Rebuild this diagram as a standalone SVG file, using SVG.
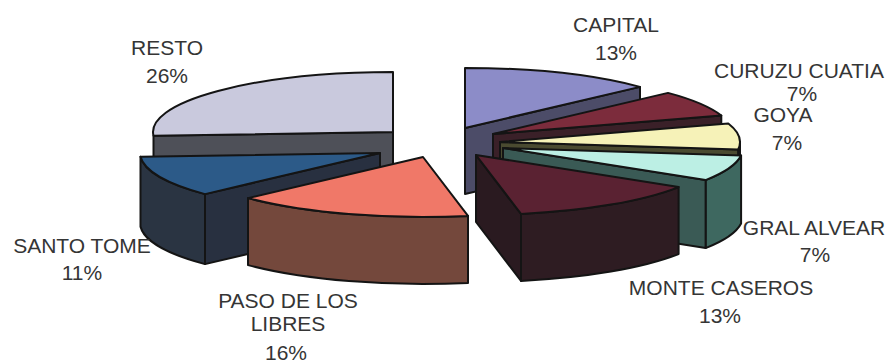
<svg xmlns="http://www.w3.org/2000/svg" width="894" height="363" viewBox="0 0 894 363">
<style>
.e{stroke:#141414;stroke-width:2;stroke-linejoin:round}
.t{font-family:"Liberation Sans",Arial,sans-serif;font-size:21px;fill:#353535;text-anchor:middle}
</style>
<rect width="894" height="363" fill="#ffffff"/>
<g id="capital">
<path class="e" fill="#4c4c68" d="M465,128 L640,86.9 L640,152.9 L465,194 Z"/>
<path class="e" fill="#8c8cc8" d="M465,128 L465,68 A240,60 0 0 1 640,86.9 Z"/>
</g>
<g id="resto">
<path class="e" fill="#4e5058" d="M393,132 L153.5,135.8 L153.5,201.8 L393,198 Z"/>
<path class="e" fill="#c9c9dd" d="M393,132 L153.5,135.8 A240,60 0 0 1 393,72 Z"/>
</g>
<g id="curuzu-cuatia">
<path class="e" fill="#3a2028" d="M493,134 L721.3,115.5 L721.3,181.5 L493,200 Z"/>
<path class="e" fill="#7c2c3c" d="M493,134 L668,92.9 A240,60 0 0 1 721.3,115.5 Z"/>
</g>
<g id="goya">
<path class="e" fill="#4a4a30" d="M740,142 A240,60 0 0 1 738.1,149.5 L738.1,216.5 A240,60 0 0 0 740,209 Z"/>
<path class="e" fill="#4a4a30" d="M500,142 L738.1,149.5 L738.1,216.5 L500,209 Z"/>
<path class="e" fill="#f6f2b8" d="M500,142 L728.3,123.5 A240,60 0 0 1 738.1,149.5 Z"/>
</g>
<g id="gral-alvear">
<path class="e" fill="#3e6860" d="M741.1,155.5 A240,60 0 0 1 705.6,180.1 L705.6,248.1 A240,60 0 0 0 741.1,223.5 Z"/>
<path class="e" fill="#3a5a55" d="M503,148 L705.6,180.1 L705.6,248.1 L503,216 Z"/>
<path class="e" fill="#bcefe4" d="M503,148 L741.1,155.5 A240,60 0 0 1 705.6,180.1 Z"/>
</g>
<g id="santo-tome">
<path class="e" fill="#283040" d="M380,153 L205,194.1 L205,264.1 L380,223 Z"/>
<path class="e" fill="#2a3442" d="M205,194.1 A240,60 0 0 1 140.5,156.8 L140.5,226.8 A240,60 0 0 0 205,264.1 Z"/>
<path class="e" fill="#2c5a88" d="M380,153 L205,194.1 A240,60 0 0 1 140.5,156.8 Z"/>
</g>
<g id="monte-caseros">
<path class="e" fill="#2a1a20" d="M476,155 L521,213.9 L521,280.9 L476,222 Z"/>
<path class="e" fill="#2e1c22" d="M678.6,187.1 A240,60 0 0 1 521,213.9 L521,280.9 A240,60 0 0 0 678.6,254.1 Z"/>
<path class="e" fill="#5a2232" d="M476,155 L678.6,187.1 A240,60 0 0 1 521,213.9 Z"/>
</g>
<g id="paso-de-los-libres">
<path class="e" fill="#74483c" d="M468,215.9 A240,60 0 0 1 248,198.1 L248,265.1 A240,60 0 0 0 468,282.9 Z"/>
<path class="e" fill="#f07868" d="M423,157 L468,215.9 A240,60 0 0 1 248,198.1 Z"/>
</g>
<g id="labels">
<text class="t" x="616" y="32">CAPITAL</text>
<text class="t" x="616" y="60">13%</text>
<text class="t" x="799" y="78">CURUZU CUATIA</text>
<text class="t" x="802" y="101">7%</text>
<text class="t" x="783" y="122">GOYA</text>
<text class="t" x="787" y="150">7%</text>
<text class="t" x="167" y="55">RESTO</text>
<text class="t" x="167" y="83">26%</text>
<text class="t" x="82" y="253">SANTO TOME</text>
<text class="t" x="82" y="280">11%</text>
<text class="t" x="288" y="308">PASO DE LOS</text>
<text class="t" x="288" y="331">LIBRES</text>
<text class="t" x="286" y="360">16%</text>
<text class="t" x="814" y="235">GRAL ALVEAR</text>
<text class="t" x="815" y="262">7%</text>
<text class="t" x="721" y="295">MONTE CASEROS</text>
<text class="t" x="720" y="323">13%</text>
</g>
</svg>
